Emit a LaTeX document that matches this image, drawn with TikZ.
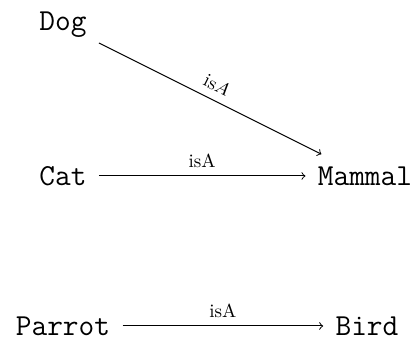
\documentclass[tikz,border=0pt]{standalone}
\begin{document}
\begin{tikzpicture}[x=0.5pt,y=-0.5pt,
  concept/.style={font=\ttfamily\fontsize{15.25}{18}\selectfont, inner sep=6pt},
  rel/.style={->, line width=0.5pt},
  lbl/.style={font=\fontsize{9.5}{11}\selectfont, inner sep=4pt}]
\useasboundingbox (0,0) rectangle (414,340);
\node[concept] (dog) at (63,25) {Dog};
\node[concept] (cat) at (63,176) {Cat};
\node[concept] (mammal) at (365,176) {Mammal};
\node[concept] (parrot) at (63,326) {Parrot};
\node[concept] (bird) at (367,326) {Bird};
\draw[rel] (dog) -- node[lbl,above,sloped] {is$A$} (mammal);
\draw[rel] (cat) -- node[lbl,above] {isA} (mammal);
\draw[rel] (parrot) -- node[lbl,above] {isA} (bird);
\end{tikzpicture}
\end{document}
